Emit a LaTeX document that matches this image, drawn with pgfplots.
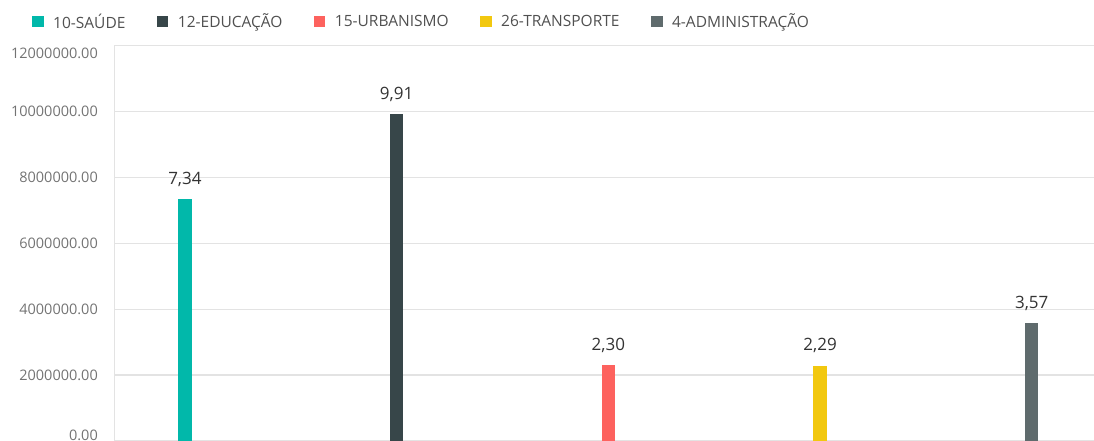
\documentclass[border=0pt]{standalone}
\usepackage{fontspec}
\setmainfont{Open Sans}
\usepackage{pgfplots}
\pgfplotsset{compat=1.18}
\definecolor{cSaude}{HTML}{01B8AA}
\definecolor{cEduc}{HTML}{374649}
\definecolor{cUrb}{HTML}{FD625E}
\definecolor{cTransp}{HTML}{F2C80F}
\definecolor{cAdm}{HTML}{5F6B6D}
\definecolor{gridc}{HTML}{E3E3E3}
\definecolor{tickc}{HTML}{737373}
\definecolor{legc}{HTML}{505050}
\definecolor{labc}{HTML}{333333}
\begin{document}
\begin{tikzpicture}
\begin{axis}[
  at={(114pt,-1pt)}, anchor=south west,
  scale only axis, width=980pt, height=395.5pt,
  xmin=-0.335, xmax=4.294,
  ymin=0, ymax=12000000,
  scaled y ticks=false,
  ybar, bar width=13.3pt, bar shift=0pt,
  axis x line=none, axis y line=left,
  axis line style={-, draw=gridc, line width=1pt},
  xtick=\empty,
  ytick={0,2000000,4000000,6000000,8000000,10000000,12000000},
  yticklabels={\raisebox{6pt}[\height][\depth]{0.00},2000000.00,4000000.00,6000000.00,8000000.00,10000000.00,\raisebox{-8pt}[\height][\depth]{12000000.00}},
  ytick style={draw=none}, major tick length=0pt,
  yticklabel style={font=\fontsize{14.5}{14.5}\selectfont, text=tickc, inner sep=0pt, anchor=east, xshift=-16pt},
  ymajorgrids, grid style={draw=gridc, line width=1.2pt},
  point meta=explicit symbolic,
  nodes near coords,
  nodes near coords style={font=\fontsize{17}{17}\selectfont, text=labc, anchor=base, inner sep=0pt, yshift=15pt},
  legend image code/.code={\fill[#1] (0pt,-5.5pt) rectangle (11.5pt,5.5pt);},
  legend style={draw=none, fill=none, inner sep=0pt, at={(-0.0837,1.06)}, anchor=west,
    legend columns=-1, font=\fontsize{15.5}{15.5}\selectfont, text=legc,
    nodes={inner sep=0pt},
    /tikz/every odd column/.append style={column sep=9.5pt},
    /tikz/every even column/.append style={column sep=31.5pt}},
  legend cell align=left,
  clip=false,
]
\addplot[fill=cSaude, draw=none] coordinates {(0,7340000) [7,34]};
\addlegendentry{10-SAÚDE}
\addplot[fill=cEduc, draw=none] coordinates {(1,9910000) [9,91]};
\addlegendentry{12-EDUCAÇÃO}
\addplot[fill=cUrb, draw=none] coordinates {(2,2300000) [2,30]};
\addlegendentry{15-URBANISMO}
\addplot[fill=cTransp, draw=none] coordinates {(3,2290000) [2,29]};
\addlegendentry{26-TRANSPORTE}
\addplot[fill=cAdm, draw=none] coordinates {(4,3570000) [3,57]};
\addlegendentry{4-ADMINISTRAÇÃO}
\end{axis}
\pgfresetboundingbox
\useasboundingbox (0pt,0pt) rectangle (1094pt,440pt);
\end{tikzpicture}
\end{document}
